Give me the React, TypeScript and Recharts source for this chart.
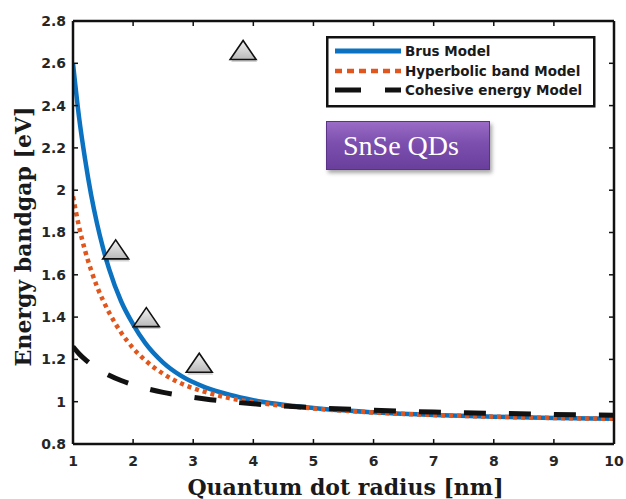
import React from 'react';
import { ComposedChart, Line, Scatter, XAxis, YAxis, Legend } from 'recharts';

const radius = [1, 1.1, 1.2, 1.3, 1.4, 1.5, 1.6, 1.8, 2.0, 2.2, 2.5, 2.8, 3.2, 3.6, 4, 5, 6, 7, 8, 9, 10];
const brusModel = [2.6, 2.346, 2.148, 1.98, 1.842, 1.726, 1.628, 1.475, 1.366, 1.278, 1.185, 1.122, 1.068, 1.033, 1.007, 0.97, 0.95, 0.937, 0.929, 0.923, 0.919];
const hyperbolicModel = [1.97, 1.828, 1.715, 1.623, 1.544, 1.479, 1.422, 1.327, 1.253, 1.196, 1.132, 1.086, 1.046, 1.017, 0.998, 0.968, 0.949, 0.937, 0.929, 0.923, 0.919];
const cohesiveModel = [1.26, 1.227, 1.2, 1.177, 1.157, 1.14, 1.125, 1.1, 1.08, 1.064, 1.044, 1.029, 1.0125, 1.0, 0.99, 0.972, 0.96, 0.951, 0.945, 0.94, 0.936];

const expRadius = [1.71, 2.22, 3.1, 3.83];
const expBandgap = [1.72, 1.4, 1.184, 2.663];

const xTicks = [1, 2, 3, 4, 5, 6, 7, 8, 9, 10];
const yTicks = [0.8, 1, 1.2, 1.4, 1.6, 1.8, 2, 2.2, 2.4, 2.6, 2.8];

const seriesNames = ['Brus Model', 'Hyperbolic band Model', 'Cohesive energy Model'];
const xLabel = 'Quantum dot radius [nm]';
const yLabel = 'Energy bandgap [eV]';
const boxText = 'SnSe QDs';

const BLUE = '#0a72c0';
const ORANGE = '#e0561c';
const BLACK = '#111111';

const brusData = radius.map((r, i) => ({ r, e: brusModel[i] }));
const hypData = radius.map((r, i) => ({ r, e: hyperbolicModel[i] }));
const cohData = radius.map((r, i) => ({ r, e: cohesiveModel[i] }));
const expData = expRadius.map((r, i) => ({ r, e: expBandgap[i] }));

const tickFont = {
  fontFamily: '"DejaVu Sans", sans-serif',
  fontWeight: 'bold' as const,
  fontSize: 14,
  fill: '#262626',
};

const Triangle = (props: any) => {
  const { cx, cy } = props;
  if (cx == null || cy == null) return null;
  const w = 26;
  const h = 19;
  const pts = (dx: number, dy: number) =>
    `${cx - w / 2 + dx},${cy + h / 2 + dy} ${cx + w / 2 + dx},${cy + h / 2 + dy} ${cx + dx},${cy - h / 2 + dy}`;
  return (
    <g>
      <defs>
        <linearGradient id="triGrad" x1="0" y1="0" x2="0" y2="1">
          <stop offset="0%" stopColor="#f2f2f2" />
          <stop offset="100%" stopColor="#b9b9b9" />
        </linearGradient>
      </defs>
      <polygon points={pts(1, 2.5)} fill="#000" opacity={0.18} />
      <polygon points={pts(0, 0)} fill="url(#triGrad)" stroke="#111" strokeWidth={1.6} strokeLinejoin="miter" />
    </g>
  );
};

const LegendBox = () => {
  const rows = [
    { name: seriesNames[0], color: BLUE, dash: undefined as string | undefined, w: 5 },
    { name: seriesNames[1], color: ORANGE, dash: '7 5', w: 4.5 },
    { name: seriesNames[2], color: BLACK, dash: '26 24', w: 5 },
  ];
  const ys = [15, 35, 54];
  return (
    <svg width={270} height={72} style={{ display: 'block' }}>
      <rect x={1.25} y={1.25} width={267} height={69} fill="#fff" stroke="#111" strokeWidth={2.5} />
      {rows.map((row, i) => (
        <g key={row.name}>
          <line x1={9} x2={75} y1={ys[i]} y2={ys[i]} stroke={row.color} strokeWidth={row.w} strokeDasharray={row.dash} />
          <text
            x={79}
            y={ys[i]}
            dominantBaseline="central"
            style={{ fontFamily: '"DejaVu Sans", sans-serif', fontWeight: 'bold', fontSize: 13.5, fill: '#1a1a1a' }}
          >
            {row.name}
          </text>
        </g>
      ))}
    </svg>
  );
};

const YLabel = (props: any) => {
  const vb = props.viewBox || {};
  const x = (vb.x ?? 0) + 31;
  const y = (vb.y ?? 0) + (vb.height ?? 0) / 2 + 4;
  return (
    <text
      x={x}
      y={y}
      transform={`rotate(-90, ${x}, ${y})`}
      textAnchor="middle"
      style={{ fontFamily: '"DejaVu Serif", serif', fontWeight: 'bold', fontSize: 22, fill: '#1a1a1a' }}
    >
      {yLabel}
    </text>
  );
};

const XLabel = (props: any) => {
  const vb = props.viewBox || {};
  const x = (vb.x ?? 0) + (vb.width ?? 0) / 2 + 2;
  const y = (vb.y ?? 0) + 51;
  return (
    <text
      x={x}
      y={y}
      textAnchor="middle"
      style={{ fontFamily: '"DejaVu Serif", serif', fontWeight: 'bold', fontSize: 22, fill: '#1a1a1a' }}
    >
      {xLabel}
    </text>
  );
};

export default function App() {
  return (
    <div style={{ position: 'absolute', left: 0, top: 0, width: 626, height: 499, background: '#fff' }}>
      <ComposedChart width={626} height={499} margin={{ top: 0, right: 0, bottom: 0, left: 0 }}>
        <XAxis
          xAxisId="b"
          dataKey="r"
          type="number"
          domain={[1, 10]}
          ticks={xTicks}
          allowDataOverflow
          height={55}
          orientation="bottom"
          axisLine={{ stroke: BLACK, strokeWidth: 2.5 }}
          tickLine={{ stroke: BLACK, strokeWidth: 1.5 }}
          tickSize={-5}
          tickMargin={17}
          tick={tickFont}
          label={<XLabel />}
        />
        <XAxis
          xAxisId="t"
          dataKey="r"
          type="number"
          domain={[1, 10]}
          ticks={xTicks}
          allowDataOverflow
          height={21}
          orientation="top"
          axisLine={{ stroke: BLACK, strokeWidth: 2.5 }}
          tickLine={{ stroke: BLACK, strokeWidth: 1.5 }}
          tickSize={-5}
          tickFormatter={() => ''}
        />
        <YAxis
          yAxisId="l"
          type="number"
          domain={[0.8, 2.8]}
          ticks={yTicks}
          allowDataOverflow
          width={73}
          orientation="left"
          axisLine={{ stroke: BLACK, strokeWidth: 2.5 }}
          tickLine={{ stroke: BLACK, strokeWidth: 1.5 }}
          tickSize={-5}
          tickMargin={12}
          tick={tickFont}
          tickFormatter={(v: number) => String(v)}
          label={<YLabel />}
        />
        <YAxis
          yAxisId="r"
          type="number"
          domain={[0.8, 2.8]}
          ticks={yTicks}
          allowDataOverflow
          width={12}
          orientation="right"
          axisLine={{ stroke: BLACK, strokeWidth: 2.5 }}
          tickLine={{ stroke: BLACK, strokeWidth: 1.5 }}
          tickSize={-5}
          tickFormatter={() => ''}
        />
        <Line
          xAxisId="b"
          yAxisId="l"
          data={brusData}
          dataKey="e"
          name={seriesNames[0]}
          type="monotone"
          stroke={BLUE}
          strokeWidth={4.5}
          dot={false}
          activeDot={false}
          isAnimationActive={false}
        />
        <Line
          xAxisId="b"
          yAxisId="l"
          data={hypData}
          dataKey="e"
          name={seriesNames[1]}
          type="monotone"
          stroke={ORANGE}
          strokeWidth={4.5}
          strokeDasharray="4 4"
          dot={false}
          activeDot={false}
          isAnimationActive={false}
        />
        <Line
          xAxisId="b"
          yAxisId="l"
          data={cohData}
          dataKey="e"
          name={seriesNames[2]}
          type="monotone"
          stroke={BLACK}
          strokeWidth={5}
          strokeDasharray="22 23"
          dot={false}
          activeDot={false}
          isAnimationActive={false}
        />
        <Scatter
          xAxisId="b"
          yAxisId="l"
          data={expData}
          dataKey="e"
          name="Experiment"
          shape={<Triangle />}
          isAnimationActive={false}
        />
        <Legend
          layout="horizontal"
          verticalAlign="middle"
          align="center"
          content={<LegendBox />}
          wrapperStyle={{ position: 'absolute', left: 326, top: 36, width: 270, height: 72 }}
        />
      </ComposedChart>
      <div
        style={{
          position: 'absolute',
          left: 326,
          top: 121,
          width: 164,
          height: 49,
          boxSizing: 'border-box',
          background: 'linear-gradient(to bottom, #9a6cc6 0%, #7c4fae 45%, #6a3f9c 100%)',
          border: '1px solid #5a3288',
          boxShadow: '2px 3px 4px rgba(0,0,0,0.35)',
          display: 'flex',
          alignItems: 'center',
          justifyContent: 'center',
          paddingRight: 14,
          color: '#ffffff',
          fontFamily: '"Liberation Serif", serif',
          fontSize: 28,
          lineHeight: 1,
        }}
      >
        {boxText}
      </div>
    </div>
  );
}
